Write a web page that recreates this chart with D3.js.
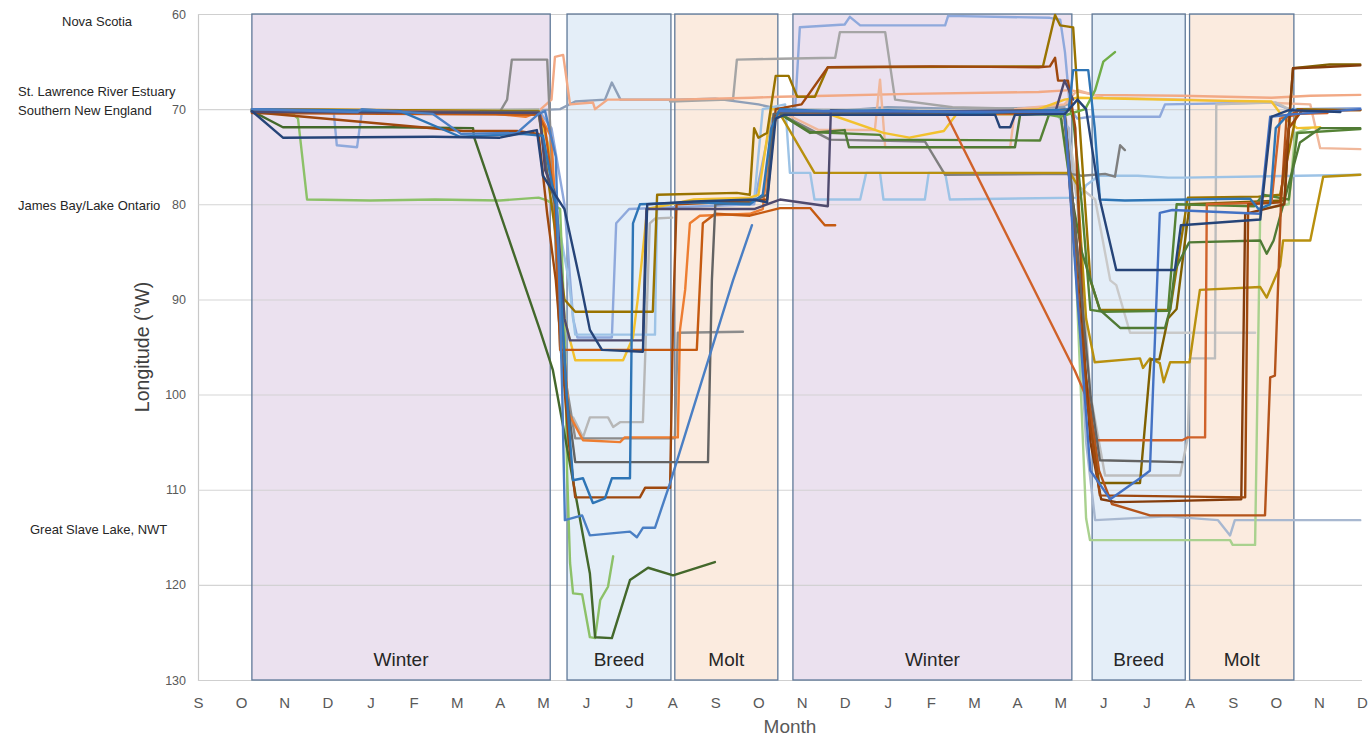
<!DOCTYPE html>
<html><head><meta charset="utf-8">
<script src="https://cdn.jsdelivr.net/npm/d3@7"></script>
<style>
body{margin:0;background:#fff}
svg{display:block}
text{font-family:"Liberation Sans",Arial,sans-serif}
</style>
</head><body>
<svg id="c" width="1369" height="738"></svg>
<script>
// ---------- DATA ----------
const months = ["S","O","N","D","J","F","M","A","M","J","J","A","S","O","N","D","J","F","M","A","M","J","J","A","S","O","N","D"];
const yTicks = [60,70,80,90,100,110,120,130];
const periodLabels = ["Winter","Breed","Molt","Winter","Breed","Molt"];
const periodStart = [1.25,8.56,11.06,13.8,20.74,23.0];
const periodEnd   = [8.17,10.97,13.45,20.27,22.9,25.42];
const locationNames = ["Nova Scotia","St. Lawrence River Estuary","Southern New England","James Bay/Lake Ontario","Great Slave Lake, NWT"];
const locationLon = [60.8,68.1,70.1,80.1,114.2];

// series: [month index since Sep 1, longitude °W]
const ltGreen1 = [[1.25,70.2],[2.2,70.5],[2.32,71],[2.53,79.5],[4.0,79.6],[5.5,79.5],[7.0,79.6],[7.9,79.3],[8.1,79.6],[8.4,80.5],[8.5,92],[8.56,108],[8.63,117.7],[8.7,120.9],[8.91,121],[9.09,125.5],[9.21,125.6],[9.33,121.6],[9.51,120.2],[9.63,117]];
const dkGreen1 = [[1.25,70.2],[1.97,71.9],[4.5,71.9],[6.38,72],[6.4,72.9],[7.93,93.2],[8.23,97.4],[9.09,118.8],[9.21,125.5],[9.6,125.6],[10.02,119.5],[10.44,118.2],[11.02,119],[11.99,117.6]];
const blueDiag = [[1.25,70],[3.7,70.3],[3.8,70],[5.45,70.5],[6.1,72.6],[7.4,72.5],[7.9,70.5],[8.05,70.2],[8.3,75],[8.45,100],[8.51,113.2],[8.91,112.7],[9.09,114.8],[10.02,114.4],[10.18,115],[10.32,114],[10.6,114],[10.95,109.3],[12.41,88],[12.85,82.2]];
const steelBlue = [[1.25,70],[4.69,70.2],[6.08,72.9],[7.5,72.6],[8.0,72.8],[8.3,80],[8.55,100],[8.7,109],[8.93,108.8],[9.16,111.4],[9.44,110.9],[9.6,108.8],[10.02,108.8],[10.09,82],[10.25,80],[11.5,79.8],[12.8,80],[13.1,79],[13.3,72],[13.5,70],[14.5,70.2],[16,70.1],[18,70.4],[19.5,70.2],[20.2,70],[20.3,65.9],[20.65,65.9],[20.8,72],[20.92,79.5],[21.5,79.6],[23,79.5],[24.4,79.4],[24.6,80.5],[24.87,80],[25,72],[25.4,70]];
const brown = [[1.25,70.3],[6.15,72.3],[7.4,72.3],[7.9,72.6],[8.1,81],[8.3,88],[8.6,105],[8.75,110.8],[10.25,110.8],[10.37,109.8],[10.95,109.8],[11.02,92],[11.1,80],[12.5,79.7],[13.2,79.5],[13.4,70],[14.0,69.5],[14.61,65.6],[17,65.5],[19.5,65.6],[19.76,65.5],[19.88,64.6],[19.95,67],[20.18,67],[20.35,72],[20.6,100],[20.92,110.6],[24.29,110.8],[24.36,80],[25.1,79.8],[25.3,72],[25.6,70.2],[26.96,70.1]];
const dkGray = [[1.25,70.2],[7.9,70.3],[8.1,77],[8.3,80],[8.55,100],[8.75,107.1],[11.83,107.1],[11.92,88],[12.0,80],[12.8,79.8],[13.2,79],[13.35,70.5],[14,70.3],[16,70.5],[19.5,70.3],[20.1,70.5],[20.4,85],[20.7,100],[20.92,106.9],[22.83,107.1]];
const orange = [[1.25,70],[6.5,70.3],[7.6,70.8],[7.9,70.3],[8.2,73],[8.4,90],[8.6,102],[8.93,104.8],[9.79,105],[9.9,104.5],[11.13,104.5],[11.18,93.2],[11.3,89],[11.41,82],[11.64,81.2],[12.8,81],[13.1,80.5],[13.3,72],[13.5,70.3],[16,70.6],[19.5,70.5],[20.1,70]];
const ltGray1 = [[1.25,70.2],[7.9,70],[8.2,75],[8.4,90],[8.56,102.4],[8.7,102.4],[8.93,104.5],[9.09,102.4],[9.51,102.4],[9.63,103.4],[9.79,102.9],[10.32,102.9],[10.48,82],[10.6,81.5],[11.0,81.4]];
const taupe = [[1.25,70.2],[7.0,70.3],[7.17,69],[7.28,64.8],[8.1,64.8],[8.2,75],[8.4,95],[8.75,104.6],[11.06,104.6],[11.13,93.5],[12.64,93.4]];
const orange2 = [[1.25,70.4],[7.9,70.6],[8.05,72],[8.28,80],[8.4,95.3],[11.57,95.3],[11.71,82],[12.0,81],[12.8,81.2],[13.5,80.4],[14.2,80.4],[14.54,82.2],[14.78,82.2]];
const gold = [[1.25,70],[7.9,70.2],[8.2,75],[8.5,92],[8.75,96.4],[9.86,96.4],[10.09,94],[10.2,90],[10.42,80.5],[11.5,79.5],[12.8,79.3],[13.0,79],[13.3,70],[14.5,70.3],[15.9,72.5],[16.5,73],[17.3,72.3],[17.6,70.5],[19.5,70],[20.1,69],[20.4,68.8],[21.5,68.9],[23.5,69.1],[24.9,69.2],[25.2,71],[25.5,72],[26.03,71.9]];
const navy = [[1.25,70.2],[1.97,73],[5.45,72.9],[7.0,73],[7.86,72.2],[8.0,77],[8.5,80.5],[8.86,88],[9.09,93.2],[9.37,95.3],[10.32,95.5],[10.42,80],[11.5,79.7],[12.9,79.5],[13.2,79.8],[13.4,71],[13.6,70.6],[18.49,70.6],[18.6,71.9],[18.84,71.9],[18.95,70.6],[20.11,70.5],[20.4,69],[20.6,70],[20.92,79.5],[21.3,86.9],[22.66,86.9],[22.8,82.2],[24.64,81.6],[24.9,70.8],[25.3,70.1],[26.5,70.3]];
const olive = [[1.25,70],[7.9,70.2],[8.2,80],[8.5,90],[8.75,91.3],[10.55,91.3],[10.65,79],[12.5,78.8],[12.8,79],[12.9,72],[13.0,73],[13.2,72.5],[13.4,66.5],[13.7,66.5],[13.9,68.7],[14.31,68.7],[14.61,65.6],[19.6,65.5],[19.88,60.1],[20.0,61.2],[20.3,61.4],[20.5,75],[20.7,88],[20.92,91.1],[22.55,91.1],[22.96,79.3],[24.6,79.2],[25.1,79],[25.5,70],[26.96,70.1]];
const skyBlue = [[1.25,70.2],[7.9,70.1],[8.2,78],[8.6,88],[8.75,93.7],[10.6,93.7],[10.65,80],[12.9,79.6],[13.1,70],[13.62,69.5],[13.73,76.7],[14.2,76.7],[14.3,79.5],[15.36,79.5],[15.5,76.7],[15.82,76.7],[15.9,79.5],[16.86,79.5],[16.95,76.7],[17.33,76.7],[17.44,79.5],[20.46,79.3],[20.6,78],[20.9,77],[21.8,77],[22.5,77.2],[22.9,77.2],[26.96,76.9]];
const salmon = [[1.25,70],[7.9,70.2],[8.2,69],[8.28,64.5],[8.47,64.3],[8.63,69.5],[9.16,69.3],[9.21,70],[9.5,69],[11.1,69],[12.85,68.8],[13.5,68.7],[14.61,68.6],[16.5,68.4],[19.5,68.2],[20.23,68],[20.81,68.5],[22.8,68.6],[24.9,68.8],[25.8,68.6],[26.96,68.5]];
const blueGray = [[1.25,70.2],[7.9,70.1],[8.4,70],[8.75,69.2],[9.44,69],[9.6,67.2],[9.8,69],[11.1,69],[12.0,68.9],[13.0,69.5],[13.5,70],[14.5,70.3],[16,69.8],[18,70],[20.1,69.8]];
const grayMolt = [[10.95,69.2],[12.3,69],[12.41,69],[12.5,64.8],[13.5,64.7],[14.78,64.6],[14.89,61.9],[15.94,61.9],[16.17,69],[17.5,69.8],[19.5,70],[20.2,69.5]];
const periwinkle = [[1.25,70.1],[3.15,70.4],[3.22,73.8],[3.69,74],[3.8,70.3],[7.9,70.1],[8.2,72],[8.5,80],[8.7,92],[8.8,94],[9.6,94],[9.7,82],[10.0,80.5],[12.9,80],[13.3,71],[13.85,70],[13.96,61.4],[15.0,61.1],[15.12,60.3],[15.36,61.2],[17.33,61.2],[17.4,60.2],[19.76,60.4],[20.0,60.6],[20.11,64],[20.23,70],[20.4,71],[20.7,70.8],[22.31,70.8],[22.43,69.5],[24.9,69.3],[25.3,70],[26.96,69.9]];
const redOrange = [[13.5,70.3],[16.5,70.2],[17.33,70.3],[20.34,97.5],[20.58,100],[20.81,104.8],[22.83,104.8],[22.96,104.5],[23.36,104.5],[23.4,80],[24.9,79.8],[25.1,71],[25.56,70.5],[26.2,70.4]];
const dkGreen2 = [[13.5,70.5],[14.2,72.5],[15.0,72.2],[15.1,74],[18.95,74],[19.07,70.6],[20.0,70.3],[20.3,80],[20.5,85],[20.92,91.1],[21.39,93],[22.43,93],[22.55,91],[22.66,86.9],[22.99,84],[24.64,83.8],[24.79,85.2],[24.95,83.8],[25.56,73.5],[26.03,72],[26.96,72]];
const green2 = [[13.5,70.5],[14.2,72.4],[15.82,72.7],[15.9,73.2],[19.53,73.3],[19.76,70.3],[20.23,70],[20.3,71],[20.5,80],[20.7,91.1],[21.0,91.3],[22.5,91.2],[22.7,80],[24.5,80.2],[24.7,79],[25.3,79.5],[25.5,72.5],[26.96,72.1]];
const salmon2 = [[13.5,70.2],[14.4,72.2],[15.7,72.2],[15.82,66.9],[15.94,74],[18.84,74],[18.95,70],[20.1,69.5],[20.4,68],[21,68.8],[23,69],[25.8,69.5],[26.03,74.1],[26.96,74.2]];
const slateGray = [[13.5,70.5],[14.66,73.2],[16.86,73.4],[17.33,76.9],[20.23,76.8],[20.5,77],[21.04,76.8],[21.27,77.1],[21.39,73.8],[21.5,74.3]];
const olive2 = [[13.5,70.5],[14.3,76.7],[20.23,76.7],[20.4,78],[20.6,92],[20.8,96.6],[21.85,96.2],[21.92,97.2],[22.08,96.2],[22.31,96.7],[22.4,98.7],[22.55,96.6],[23.0,96.6],[23.24,89],[24.64,88.7],[24.79,89.8],[25.1,86.5],[25.17,83.8],[25.8,83.8],[26.1,77.1],[26.96,76.9]];
const purpleGray = [[1.25,70.3],[7.93,70.4],[8.05,76.4],[8.3,79],[8.5,92],[8.63,94.3],[10.32,94.3],[10.4,80.5],[12.9,80.5],[13.5,79.5],[14.61,80.2],[14.68,70.1],[16,70.3],[19.9,70.1],[20.1,67],[20.3,69]];
const ltGray2 = [[13.5,70],[20.1,70.2],[20.4,80],[20.7,100],[21.04,108.5],[22.78,108.5],[22.96,104.5],[23.01,96.2],[23.59,96.2],[23.62,69.5],[25.0,69.3],[25.3,70]];
const ltGray3 = [[13.5,70.2],[20.1,70.2],[20.4,78],[20.81,79.5],[21.16,88],[21.3,88.5],[21.62,93.5],[24.52,93.5]];
const olive3 = [[13.5,70.4],[20.1,70.4],[20.5,95],[20.9,109.3],[21.85,109.3],[22.1,96.3],[22.3,96.3],[22.5,92],[22.7,91],[23.0,80],[25.2,79.6],[25.33,70],[25.4,65.7],[26.25,65.3],[26.96,65.3]];
const blue2 = [[13.5,70.2],[20.1,70.3],[20.4,90],[20.7,108],[21.16,111],[21.85,108.8],[22.08,108],[22.31,80.9],[22.6,80.6],[24.64,81],[24.87,70.8],[25.5,70.5],[26.96,70]];
const rust = [[13.5,70.3],[20.1,70.5],[20.5,95],[20.9,108],[21.2,111.5],[22.08,112.7],[24.75,112.7],[24.87,98.2],[24.98,98],[25.12,80],[25.25,70.8],[25.6,70]];
const blueGray2 = [[13.5,70.3],[19.9,70.5],[20.2,72],[20.6,105],[20.81,113.2],[22.5,112.8],[23.66,113.2],[23.94,114.8],[24.05,113.2],[26.96,113.2]];
const ltGreen2 = [[13.5,70.4],[20.0,70.6],[20.3,80],[20.6,113],[20.69,115.3],[23.94,115.3],[24.0,115.8],[24.52,115.8],[24.64,80.5],[25.3,80],[25.45,72.5],[25.8,72]];
const greenSpike = [[13.5,70.2],[19.5,70.4],[20.0,70.8],[20.58,70],[20.81,68],[21.0,65],[21.27,64]];
const rust2 = [[13.5,70.2],[20.1,70.4],[20.4,85],[20.7,105],[20.95,111],[21.3,111.3],[22.5,111.2],[24.2,111.0],[24.29,81],[25.2,80],[25.33,70],[25.4,65.7],[26.03,65.6],[26.96,65.4]];

const seriesList = [periwinkle,blueGray,grayMolt,salmon,salmon2,ltGray3,ltGray2,ltGray1,skyBlue,blueGray2,ltGreen1,ltGreen2,gold,taupe,slateGray,olive2,olive3,olive,green2,dkGreen2,dkGreen1,greenSpike,orange,orange2,redOrange,rust,rust2,brown,dkGray,purpleGray,steelBlue,blue2,blueDiag,navy];
const seriesColors = ["#8fa9dc","#8e9fb8","#a5a5a5","#f2a985","#f0b79a","#c9c9c9","#bdbdbd","#b7b7b7","#9dc3e6","#a8b8d0","#8cc168","#a9d18e","#f2c12e","#8c8c8c","#7f7f7f","#b8900e","#7f6000","#997300","#548235","#507a35","#43682b","#70ad47","#ed7d31","#c55a11","#d0622a","#b4541b","#843c0c","#9e480e","#636363","#4f4a6e","#2e75b6","#4472c4","#4a7fc4","#264478"];
const periodFills = ["#ebe1ef","#e4eef8","#fbebdf","#ebe1ef","#e4eef8","#fbebdf"];

// ---------- DRAW ----------
const svg=d3.select("#c");
const x=d3.scaleLinear().domain([0,27]).range([198,1362]);
const y=d3.scaleLinear().domain([60,130]).range([14,680]);

// period fills
svg.append("g").selectAll("rect").data(periodLabels).join("rect")
  .attr("x",(d,i)=>x(periodStart[i])).attr("y",y(60))
  .attr("width",(d,i)=>x(periodEnd[i])-x(periodStart[i]))
  .attr("height",y(130)-y(60))
  .attr("fill",(d,i)=>periodFills[i]);

// y axis + grid
const gy=svg.append("g").attr("transform",`translate(${x(0)},0)`)
  .call(d3.axisLeft(y).tickValues(yTicks).tickSize(-(x(27)-x(0))).tickPadding(12));
gy.select(".domain").attr("stroke","#c8c8c8").attr("stroke-width",1.2);
gy.selectAll(".tick line").attr("stroke","#cfcfcf").attr("stroke-width",1.1).attr("opacity",0.9);
gy.selectAll(".tick text").attr("fill","#595959").attr("font-size",12.5)
  .attr("font-family","'Liberation Sans',Arial,sans-serif");

// period borders
svg.append("g").selectAll("rect").data(periodLabels).join("rect")
  .attr("x",(d,i)=>x(periodStart[i])).attr("y",y(60))
  .attr("width",(d,i)=>x(periodEnd[i])-x(periodStart[i]))
  .attr("height",y(130)-y(60))
  .attr("fill","none").attr("stroke","#5f7898").attr("stroke-width",1.3);

// lines
const line=d3.line().x(d=>x(d[0])).y(d=>y(d[1]));
svg.append("g").selectAll("path").data(seriesList).join("path")
  .attr("d",line).attr("fill","none")
  .attr("stroke",(d,i)=>seriesColors[i]).attr("stroke-width",2.4)
  .attr("stroke-linejoin","round").attr("stroke-linecap","round");

// period labels
svg.append("g").selectAll("text").data(periodLabels).join("text")
  .attr("x",(d,i)=>(x(periodStart[i])+x(periodEnd[i]))/2)
  .attr("y",666).attr("text-anchor","middle")
  .attr("font-size",19).attr("fill","#262626").text(d=>d);

// x axis (month letters)
const gx=svg.append("g").attr("transform",`translate(0,${y(130)})`)
  .call(d3.axisBottom(x).tickValues(d3.range(months.length)).tickFormat(i=>months[i]).tickSize(0).tickPadding(17));
gx.select(".domain").remove();
gx.selectAll(".tick text").attr("fill","#595959").attr("font-size",15)
  .attr("font-family","'Liberation Sans',Arial,sans-serif");

// axis titles
svg.append("text").attr("x",790).attr("y",733).attr("text-anchor","middle")
  .attr("font-size",19).attr("fill","#595959").text("Month");
svg.append("text").attr("transform",`translate(149,${(y(60)+y(130))/2}) rotate(-90)`)
  .attr("text-anchor","middle").attr("font-size",19.5).attr("fill","#404040").text("Longitude (°W)");

// location labels
const locX=[62,18,18,18,30];
svg.append("g").selectAll("text").data(locationNames).join("text")
  .attr("x",(d,i)=>locX[i]).attr("y",(d,i)=>y(locationLon[i])+4.5)
  .attr("font-size",13).attr("fill","#262626").text(d=>d);
</script>
</body></html>
